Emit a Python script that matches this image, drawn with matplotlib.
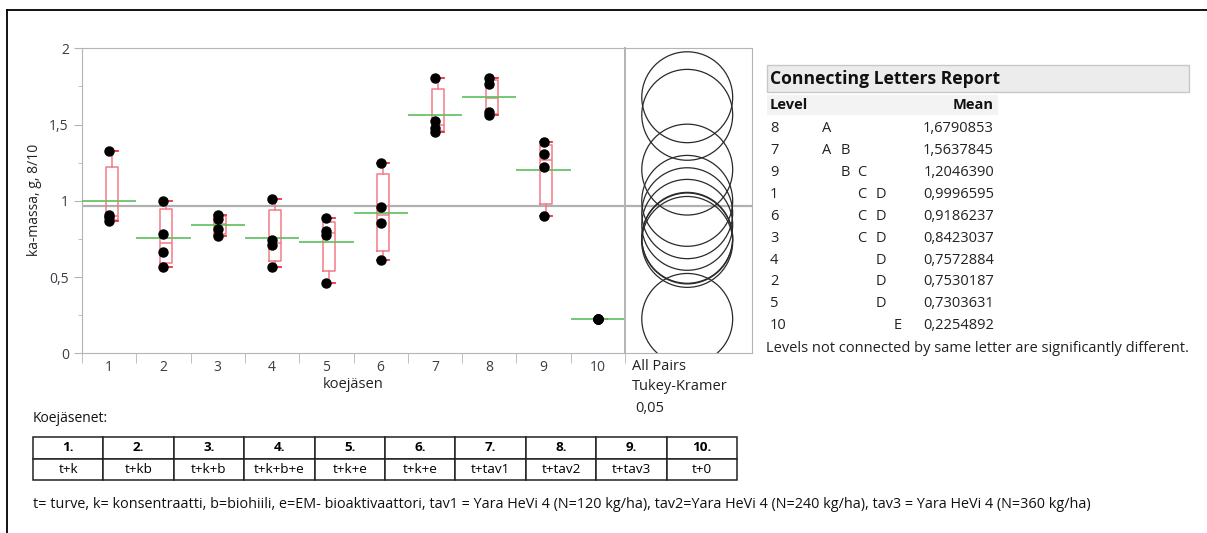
import numpy as np
import matplotlib.pyplot as plt
from matplotlib.patches import Rectangle, Ellipse
from matplotlib.lines import Line2D

plt.rcParams['font.family'] = ['Open Sans', 'DejaVu Sans']

# Measured ka-massa per koejäsen (4 replicates each)
levels = ['1', '2', '3', '4', '5', '6', '7', '8', '9', '10']
ka1 = [1.325, 0.910, 0.895, 0.869]
ka2 = [1.000, 0.780, 0.665, 0.567]
ka3 = [0.905, 0.880, 0.815, 0.770]
ka4 = [1.010, 0.740, 0.710, 0.569]
ka5 = [0.885, 0.800, 0.775, 0.462]
ka6 = [1.250, 0.960, 0.853, 0.612]
ka7 = [1.805, 1.520, 1.480, 1.450]
ka8 = [1.805, 1.765, 1.585, 1.561]
ka9 = [1.385, 1.310, 1.220, 0.903]
ka10 = [0.226, 0.225, 0.226, 0.225]

# Connecting letters report
report_levels = ['8', '7', '9', '1', '6', '3', '4', '2', '5', '10']
report_letters = ['A', 'AB', 'BC', 'CD', 'CD', 'CD', 'D', 'D', 'D', 'E']
report_means = [1.6790853, 1.5637845, 1.2046390, 0.9996595, 0.9186237,
                0.8423037, 0.7572884, 0.7530187, 0.7303631, 0.2254892]

# Treatment table
table_numbers = ['1.', '2.', '3.', '4.', '5.', '6.', '7.', '8.', '9.', '10.']
table_codes = ['t+k', 't+kb', 't+k+b', 't+k+b+e', 't+k+e', 't+k+e',
               't+tav1', 't+tav2', 't+tav3', 't+0']

circle_radius = 0.298  # Tukey-Kramer comparison circle radius (y units)

W, H = 1207, 533


def fx(px):
    return px / W


def fy(py):
    return 1 - py / H


fig = plt.figure(figsize=(W / 100, H / 100), dpi=100)

data = [ka1, ka2, ka3, ka4, ka5, ka6, ka7, ka8, ka9, ka10]
pos = np.arange(1, len(levels) + 1)
grand_mean = np.mean(np.concatenate(data))

spine_col = '#b4b4b4'
tick_col = '#3c3c48'
txt_col = '#222222'

# main plot
ax = fig.add_axes([fx(82), fy(353.3), (625 - 82) / W, (353.3 - 48.3) / H])
stats = []
for vals in data:
    q1, med, q3 = np.percentile(vals, [25, 50, 75], method='weibull')
    stats.append(dict(med=med, q1=q1, q3=q3, whislo=min(vals), whishi=max(vals)))
ax.bxp(stats, positions=pos + 0.05, widths=0.22, showfliers=False,
       boxprops=dict(color='#f27a88', lw=1.1),
       medianprops=dict(color='#f27a88', lw=1.1),
       whiskerprops=dict(color='#f27a88', lw=1.1),
       capprops=dict(color='#e8323f', lw=1.3), capwidths=0.22)
for p, vals in zip(pos, data):
    ax.plot([p] * len(vals), vals, 'o', color='black', ms=6.5, zorder=5)
means = [np.mean(v) for v in data]
ax.hlines(means, pos - 0.5, pos + 0.5, color='#5cbf5c', lw=1.2, zorder=4)
ax.axhline(grand_mean, color='#b0b0b0', lw=1.6, zorder=1)

ax.set_xlim(0.5, 10.5)
ax.set_ylim(0, 2)
ax.set_xticks(pos)
ax.set_xticklabels(levels)
ax.set_xticks(np.arange(0.5, 11, 1), minor=True)
ax.tick_params(axis='x', which='major', length=0, pad=5, labelsize=10, labelcolor=tick_col)
ax.tick_params(axis='x', which='minor', length=7, color=spine_col)
ax.set_yticks([0, 0.5, 1, 1.5, 2])
ax.set_yticklabels(['0', '0,5', '1', '1,5', '2'])
ax.set_yticks(np.arange(0, 2.01, 0.25), minor=True)
ax.tick_params(axis='y', which='major', length=6, color=spine_col, labelsize=10, labelcolor=tick_col)
ax.tick_params(axis='y', which='minor', length=3, color=spine_col)
for s in ax.spines.values():
    s.set_color(spine_col)
ax.set_ylabel('ka-massa, g, 8/10', fontsize=10, color=txt_col)
ax.yaxis.set_label_coords(-(82 - 34) / 543, 0.503)
ax.yaxis.label.set_va('center')
ax.set_xlabel('koejäsen', fontsize=10.5, color=txt_col)
ax.xaxis.set_label_coords(0.5, -(385 - 353.3) / 305)
ax.xaxis.label.set_va('center')

# comparison circles
cax = fig.add_axes([fx(625), fy(353.3), (752 - 625) / W, (353.3 - 48.3) / H])
cax.set_xlim(0, 1)
cax.set_ylim(0, 2)
px_per_y = (353.3 - 48.3) / 2
px_per_x = (752 - 625) / 1
for m in report_means:
    cax.add_patch(Ellipse((0.49, m), 2 * circle_radius * px_per_y / px_per_x,
                          2 * circle_radius, fill=False, ec='#2a2a2a', lw=0.9))
cax.axhline(grand_mean, color='#b0b0b0', lw=1.6, zorder=0)
cax.set_xticks([])
cax.set_yticks([])
for s in cax.spines.values():
    s.set_color(spine_col)
cax.spines['left'].set_linewidth(1.4)

fig.text(fx(632), fy(366), 'All Pairs', fontsize=10.5, va='center', color=txt_col)
fig.text(fx(632), fy(387), 'Tukey-Kramer', fontsize=10.5, va='center', color=txt_col)
fig.text(fx(635), fy(408), '0,05', fontsize=10.5, va='center', color=txt_col)

# connecting letters report
fig.add_artist(Rectangle((fx(767), fy(92)), (1189 - 767) / W, (92 - 65) / H,
                         transform=fig.transFigure, fc='#ececec', ec='#c8c8c8', lw=1))
fig.text(fx(770), fy(78.5), 'Connecting Letters Report', fontsize=12.6, fontweight='bold',
         va='center', color='#111111')
fig.add_artist(Rectangle((fx(767), fy(115)), (998 - 767) / W, (115 - 95) / H,
                         transform=fig.transFigure, fc='#f3f3f3', ec='none'))
fig.text(fx(770), fy(105), 'Level', fontsize=10.5, fontweight='bold', va='center', color='#111111')
fig.text(fx(994), fy(105), 'Mean', fontsize=10.5, fontweight='bold', va='center', ha='right',
         color='#111111')
letter_x = {'A': 827, 'B': 845, 'C': 862, 'D': 881, 'E': 898}
for i, (lv, lt, m) in enumerate(zip(report_levels, report_letters, report_means)):
    y = 129 + i * 21.85
    fig.text(fx(770), fy(y), lv, fontsize=10.5, va='center', color=txt_col)
    for ch in lt:
        fig.text(fx(letter_x[ch]), fy(y), ch, fontsize=10.5, va='center', ha='center', color=txt_col)
    fig.text(fx(994), fy(y), f'{m:.7f}'.replace('.', ','), fontsize=10.5, va='center', ha='right',
             color=txt_col)
fig.text(fx(766), fy(349), 'Levels not connected by same letter are significantly different.',
         fontsize=10.5, va='center', color=txt_col)

# treatment table
fig.text(fx(33), fy(418), 'Koejäsenet:', fontsize=10, va='center', color='#111111')
tax = fig.add_axes([fx(33), fy(480), (737 - 33) / W, (480 - 437) / H])
tax.axis('off')
tbl = tax.table(cellText=[table_numbers, table_codes], cellLoc='center', bbox=[0, 0, 1, 1])
tbl.auto_set_font_size(False)
tbl.set_fontsize(9.7)
for (r, c), cell in tbl.get_celld().items():
    cell.set_linewidth(1.1)
    cell.set_edgecolor('#222222')
    if r == 0:
        cell.get_text().set_fontweight('bold')

fig.text(fx(33), fy(505),
         't= turve, k= konsentraatti, b=biohiili, e=EM- bioaktivaattori, '
         'tav1 = Yara HeVi 4 (N=120 kg/ha), tav2=Yara HeVi 4 (N=240 kg/ha), '
         'tav3 = Yara HeVi 4 (N=360 kg/ha)',
         fontsize=10.4, va='center', color='#111111')

# outer frame
fig.add_artist(Line2D([fx(7), fx(7)], [0, fy(10)], color='black', lw=1.3))
fig.add_artist(Line2D([fx(7), 1], [fy(10), fy(10)], color='black', lw=1.3))

fig.savefig('out.png', dpi=100)
